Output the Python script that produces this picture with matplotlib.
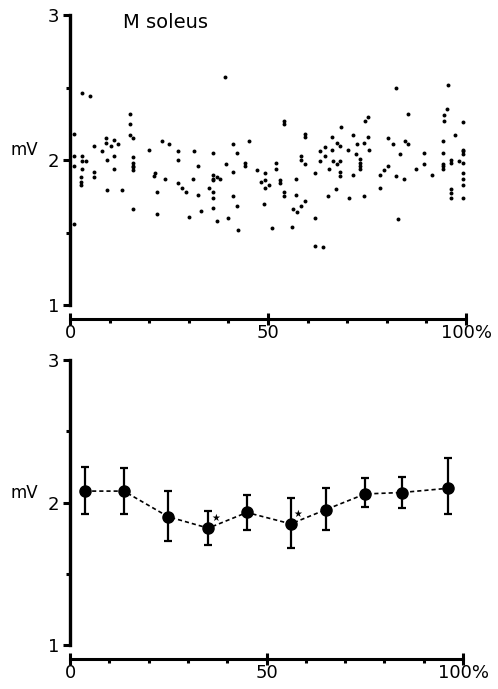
"""
M soleus amplitude over the recording: raw responses (top) and binned means (bottom).
"""

import matplotlib
matplotlib.use("Agg")
import matplotlib.pyplot as plt
from matplotlib.ticker import FixedLocator, MultipleLocator

plt.rcParams["font.family"] = ["DejaVu Sans"]

# Raw responses: position in recording (%) and amplitude (mV)
scatter_pct = [
    3.1, 5.1, 15.1, 15.1, 1.0, 15.1, 16.0, 9.2, 9.2, 10.3, 11.2, 12.2, 6.1, 20.0, 8.1,
    1.0, 3.0, 11.1, 16.0, 3.0, 4.0, 9.3, 16.0, 16.0, 16.0, 16.0, 1.0, 3.0, 11.0, 6.1,
    6.1, 2.9, 2.9, 2.9, 9.3, 13.1, 15.9, 1.0,
    39.2, 23.2, 25.1, 27.2, 31.2, 36.2, 41.2, 27.2, 32.2, 39.5, 41.2, 21.4, 21.2, 24.1,
    31.1, 36.2, 36.2, 37.0, 38.0, 36.2, 27.3, 28.3, 29.3, 22.0, 35.0, 36.2, 32.2, 36.2,
    41.1, 36.0, 33.2, 21.9, 30.1, 37.2, 39.9,
    54.1, 54.1, 59.3, 59.3, 45.2, 42.2, 58.3, 58.3, 59.3, 44.2, 44.2, 52.1, 52.1, 47.2,
    49.2, 61.9, 48.2, 49.2, 50.3, 49.2, 53.1, 53.1, 57.1, 54.1, 54.1, 57.1, 49.0, 59.3,
    58.3, 56.3, 57.3, 42.1, 61.9, 42.3, 51.1, 56.1, 61.9,
    82.4, 75.3, 74.4, 68.4, 66.2, 71.5, 75.3, 80.3, 67.3, 68.3, 72.4, 74.3, 81.6, 64.4,
    63.1, 66.2, 70.2, 75.4, 64.4, 72.1, 63.1, 66.5, 67.3, 68.3, 73.2, 73.2, 73.2, 73.2,
    65.3, 68.3, 68.3, 71.5, 80.3, 79.4, 78.4, 82.4, 78.4, 67.2, 65.2, 70.4, 74.2, 82.8,
    64.0,
    95.4, 95.3, 94.4, 94.4, 85.4, 99.2, 97.2, 84.5, 85.4, 94.3, 99.2, 99.2, 99.2, 83.4,
    89.5, 94.3, 96.3, 96.3, 98.2, 99.2, 89.4, 94.3, 94.3, 94.3, 87.3, 91.3, 84.4, 99.2,
    99.2, 99.2, 96.2, 96.2, 96.2, 99.2,
]
scatter_mv = [
    2.46, 2.44, 2.32, 2.25, 2.18, 2.17, 2.15, 2.15, 2.12, 2.10, 2.14, 2.11, 2.10, 2.07, 2.06,
    2.03, 2.03, 2.03, 2.02, 1.99, 1.99, 2.00, 1.98, 1.96, 1.95, 1.93, 1.96, 1.94, 1.94, 1.92,
    1.88, 1.88, 1.85, 1.83, 1.79, 1.79, 1.66, 1.56,
    2.57, 2.13, 2.11, 2.06, 2.06, 2.05, 2.11, 2.00, 1.96, 1.97, 1.92, 1.91, 1.89, 1.87,
    1.87, 1.90, 1.87, 1.88, 1.87, 1.86, 1.84, 1.81, 1.78, 1.78, 1.81, 1.78, 1.76, 1.74,
    1.75, 1.67, 1.65, 1.63, 1.61, 1.58, 1.60,
    2.27, 2.25, 2.18, 2.16, 2.13, 2.05, 2.03, 2.00, 1.97, 1.98, 1.96, 1.98, 1.94, 1.93,
    1.91, 1.91, 1.85, 1.86, 1.83, 1.81, 1.86, 1.84, 1.87, 1.78, 1.75, 1.76, 1.70, 1.72,
    1.68, 1.66, 1.64, 1.68, 1.60, 1.52, 1.53, 1.54, 1.41,
    2.50, 2.30, 2.27, 2.23, 2.16, 2.17, 2.16, 2.15, 2.12, 2.10, 2.11, 2.12, 2.11, 2.09,
    2.06, 2.07, 2.07, 2.07, 2.03, 2.04, 1.99, 1.99, 1.97, 1.99, 2.01, 1.98, 1.96, 1.94,
    1.94, 1.92, 1.89, 1.90, 1.96, 1.93, 1.90, 1.89, 1.81, 1.80, 1.75, 1.74, 1.75, 1.59,
    1.40,
    2.52, 2.35, 2.31, 2.27, 2.32, 2.26, 2.17, 2.13, 2.11, 2.13, 2.07, 2.06, 2.04, 2.04,
    2.05, 2.05, 2.00, 1.98, 1.99, 1.98, 1.97, 1.97, 1.96, 1.94, 1.94, 1.90, 1.87, 1.91,
    1.87, 1.83, 1.80, 1.77, 1.74, 1.74,
]

# Binned means with upper / lower error limits
bin_pct = [3.8, 13.7, 25.0, 35.2, 45.0, 56.2, 65.1, 75.1, 84.4, 96.3]
bin_mean = [2.08, 2.08, 1.90, 1.82, 1.93, 1.85, 1.95, 2.06, 2.07, 2.10]
bin_upper = [2.25, 2.24, 2.08, 1.94, 2.05, 2.03, 2.10, 2.17, 2.18, 2.31]
bin_lower = [1.92, 1.92, 1.73, 1.70, 1.81, 1.68, 1.81, 1.97, 1.96, 1.92]
significant = [3, 5]  # bins marked with a star

x_ticks = [0, 50, 100]
x_ticklabels = ["0", "50", "100%"]
y_ticks = [1, 2, 3]
y_ticklabels = ["1", "2", "3"]


def style_axes(ax):
    for side in ("top", "right"):
        ax.spines[side].set_visible(False)
    ax.spines["left"].set_linewidth(2.4)
    ax.spines["bottom"].set_linewidth(2.2)
    ax.spines["bottom"].set_position(("outward", 10))
    ax.set_xlim(0, 100)
    ax.set_ylim(1, 3)
    ax.set_xticks(x_ticks)
    ax.set_xticklabels(x_ticklabels)
    ax.set_yticks(y_ticks)
    ax.set_yticklabels(y_ticklabels)
    ax.xaxis.set_minor_locator(FixedLocator([10, 20, 30, 40, 60, 70, 80, 90]))
    ax.yaxis.set_minor_locator(MultipleLocator(0.5))
    ax.tick_params(axis="x", which="major", direction="inout", length=8, width=2.2,
                   labelsize=13, pad=0)
    ax.tick_params(axis="x", which="minor", direction="out", length=3, width=2.2)
    ax.tick_params(axis="y", which="major", direction="out", length=5, width=2.2,
                   labelsize=13, pad=3)
    ax.tick_params(axis="y", which="minor", direction="out", length=3, width=2.2)
    ax.annotate("mV", xy=(0, 2), xycoords=ax.get_yaxis_transform(),
                xytext=(-23, 7), textcoords="offset points",
                ha="right", va="center", fontsize=12)
    ax.patch.set_visible(False)


fig = plt.figure(figsize=(4.98, 6.89), dpi=100)

ax_top = fig.add_axes([70 / 498, 384 / 689, 396 / 498, 290 / 689])
ax_top.scatter(scatter_pct, scatter_mv, s=8, color="black", linewidths=0, clip_on=False)
ax_top.text(13.4, 2.95, "M soleus", ha="left", va="center", fontsize=14)
style_axes(ax_top)

ax_bot = fig.add_axes([70 / 498, 44 / 689, 393 / 498, 285 / 689])
yerr = [[m - lo for m, lo in zip(bin_mean, bin_lower)],
        [hi - m for m, hi in zip(bin_mean, bin_upper)]]
ax_bot.errorbar(bin_pct, bin_mean, yerr=yerr, fmt="none", ecolor="black",
                elinewidth=1.6, capsize=2.8, capthick=1.6)
ax_bot.plot(bin_pct, bin_mean, color="black", linestyle=(0, (2.5, 1.8)), linewidth=1.2,
            marker="o", markersize=8, markerfacecolor="black", markeredgecolor="black")
for i in significant:
    ax_bot.annotate("\u2605", xy=(bin_pct[i], bin_mean[i]), xytext=(5, 7),
                    textcoords="offset points", ha="center", va="center", fontsize=7)
style_axes(ax_bot)

fig.savefig("out.png", dpi=100)
plt.close(fig)
